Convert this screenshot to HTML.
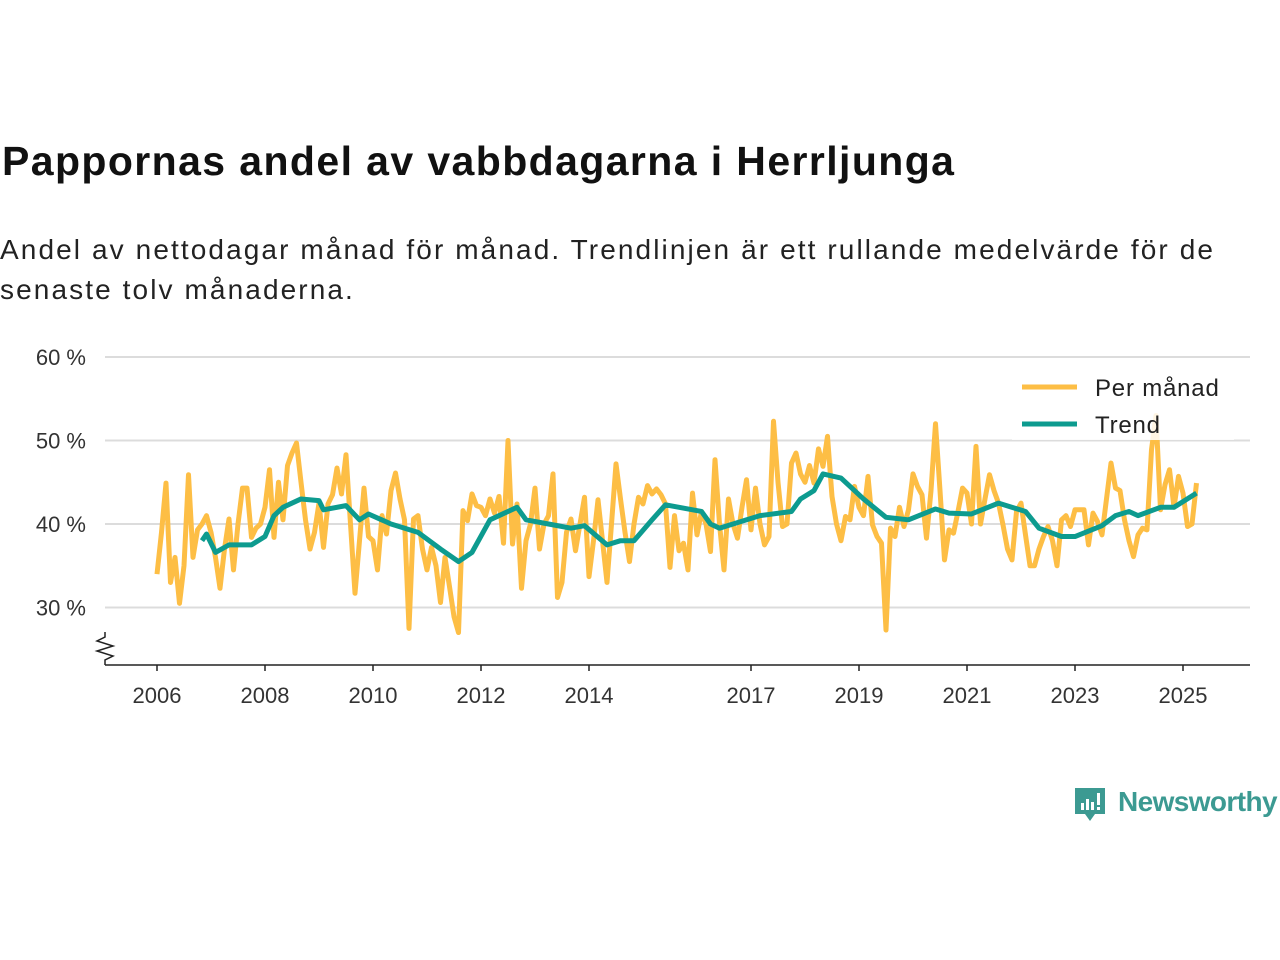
<!DOCTYPE html>
<html><head><meta charset="utf-8"><style>
body{margin:0;width:1280px;height:960px;background:#fff;font-family:"Liberation Sans","DejaVu Sans",sans-serif;overflow:hidden;position:relative}
h1{position:absolute;left:2px;top:138px;margin:0;font-size:41px;font-weight:bold;color:#111;letter-spacing:1.4px}
p.sub{position:absolute;left:0;top:230px;margin:0;font-size:28px;line-height:40px;color:#222;width:1270px;letter-spacing:2.1px}
</style></head><body>
<h1>Pappornas andel av vabbdagarna i Herrljunga</h1>
<p class="sub">Andel av nettodagar månad för månad. Trendlinjen är ett rullande medelvärde för de senaste tolv månaderna.</p>
<svg id="chart" width="1280" height="960" style="position:absolute;left:0;top:0">
</svg>
<div style="position:absolute;left:1073px;top:786px;height:42px;width:210px">
<svg width="36" height="42" style="position:absolute;left:0;top:0"><path d="M2 2h30v26H22l-5 7-5-7H2z" fill="#3c9a92"/><rect x="8" y="17" width="3" height="7" fill="#fff"/><rect x="13" y="13" width="3" height="11" fill="#fff"/><rect x="18" y="16" width="3" height="8" fill="#fff"/><rect x="24" y="7" width="3" height="12" fill="#fff"/><rect x="24" y="21" width="3" height="3" fill="#fff"/></svg>
<span style="position:absolute;left:45px;top:0;font-size:28px;color:#3c9a92;font-weight:bold;letter-spacing:-0.6px">Newsworthy</span>
</div>
<script>
const startYear = 2006;
const yTicks = [30, 40, 50, 60];
const xTickYears = [2006, 2008, 2010, 2012, 2014, 2017, 2019, 2021, 2023, 2025];
const monthly = [
34,39,44.9,33,36,30.5,35,45.9,36,39.3,40,41,
39,36,32.3,37,40.6,34.5,40,44.3,44.3,38.4,39.5,40,
42,46.5,38.4,45,40.5,47,48.5,49.7,45,40.5,37,39,
42.5,37.2,42.4,43.5,46.7,43.6,48.3,40,31.7,38,44.3,38.5,
38,34.5,41,38.8,44,46.1,43,40.5,27.5,40.6,41,37,
34.5,37.2,35,30.6,36,32.5,28.9,27,41.6,40.4,43.6,42.2,
42,41,43,41.3,43.3,37.7,50,37.6,42.4,32.3,38,40,
44.3,37,40,41,46,31.2,33,39,40.6,36.8,40,43.2,
33.7,38,42.9,38,33,40,47.2,43,39,35.5,40,43.2,
42.4,44.6,43.6,44.2,43.5,42.4,34.8,41,36.8,37.7,34.5,43.7,
38.7,41.5,40,36.7,47.7,40,34.5,43,40,38.3,42,45.3,
39.3,44.3,40,37.5,38.5,52.3,45,39.7,40,47.3,48.5,46,
45,47,44.9,49,46.9,50.5,43.3,40,38,40.9,40.5,44.5,
42,41,45.7,39.9,38.5,37.7,27.3,39.5,38.5,42,39.7,41.7,
46,44.5,43.5,38.3,44,52,44,35.7,39.3,38.9,41.5,44.3,
43.7,40,49.3,40,43,45.9,44,42.5,39.9,37,35.7,41.5,
42.5,38.7,35,35,37,38.5,39.7,38,35,40.5,41,39.7,
41.7,41.7,41.7,37.5,41.3,40.3,38.7,43,47.3,44.3,44,40.5,
38,36.1,38.7,39.5,39.3,48.9,53,41.7,44.7,46.5,42,45.7,
43.7,39.7,40,44.9];
const trendMonths = [10,11,13,16,21,24,26,28,32,36,37,42,45,47,52,58,63,67,70,74,80,82,87,92,95,100,103,106,110,113,121,123,125,128,134,141,143,146,148,152,155,157,162,167,173,176,181,187,193,196,201,204,210,213,216,218,223,226,231];
const trendValues = [38,38.8,36.6,37.5,37.5,38.5,41,42,43,42.8,41.7,42.2,40.5,41.2,40,39,37,35.5,36.6,40.5,42,40.5,40,39.5,39.8,37.5,38,38,40.5,42.3,41.5,40,39.5,40,41,41.5,43,44,46,45.5,44,43,40.8,40.5,41.8,41.3,41.2,42.5,41.5,39.5,38.5,38.5,39.8,41,41.5,41,42,42,43.7];

const NS="http://www.w3.org/2000/svg";
const svg=document.getElementById('chart');
const X0=157, PXY=54, L=105, R=1250, BASE=665;
const xScale = m => X0 + m*PXY/12;
const yScale = v => 524 - (v-40)*8.35;
function mk(tag, attrs){const e=document.createElementNS(NS,tag);for(const k in attrs)e.setAttribute(k,attrs[k]);svg.appendChild(e);return e;}
yTicks.forEach(t=>{
  const g=mk('line',{x1:L,x2:R,y1:yScale(t),y2:yScale(t),stroke:'#dcdcdc','stroke-width':2});
  
  
  const tx=mk('text',{x:86,y:yScale(t)+8,'text-anchor':'end','font-size':22,fill:'#333'});
  tx.textContent=t+' %';
  
  
});
const ax=mk('line',{x1:L,x2:R,y1:BASE,y2:BASE,stroke:'#222','stroke-width':1.5});


const brk=mk('path',{d:'M105 632 L105 637 L97 641 L113 646 L97 651 L113 656 L105 660 L105 665',fill:'none',stroke:'#222','stroke-width':1.5});


xTickYears.forEach(y=>{
  const x=xScale((y-startYear)*12);
  const tk=mk('line',{x1:x,x2:x,y1:BASE,y2:BASE+6,stroke:'#222','stroke-width':1.5});
  
  
  const tx=mk('text',{x:x,y:703,'text-anchor':'middle','font-size':22,fill:'#333'});
  tx.textContent=y;
  
  
});
const pm=mk('polyline',{points:monthly.map((v,i)=>xScale(i)+','+yScale(v)).join(' '),fill:'none',stroke:'#fdbe45','stroke-width':5,'stroke-linejoin':'round'});


const tl=mk('polyline',{points:trendMonths.map((m,i)=>xScale(m)+','+yScale(trendValues[i])).join(' '),fill:'none',stroke:'#0d9b8f','stroke-width':5,'stroke-linejoin':'round'});


const lb=mk('rect',{x:1012,y:368,width:222,height:72,fill:'#fff','fill-opacity':0.85});


[['Per månad','#fdbe45',387],['Trend','#0d9b8f',424]].forEach(([n,c,y])=>{
  const l=mk('line',{x1:1022,x2:1077,y1:y,y2:y,stroke:c,'stroke-width':5});
  
  
  const t=mk('text',{x:1095,y:y+9,'font-size':24,fill:'#222','letter-spacing':0.8});
  t.textContent=n;
  
  
});
</script>
</body></html>
